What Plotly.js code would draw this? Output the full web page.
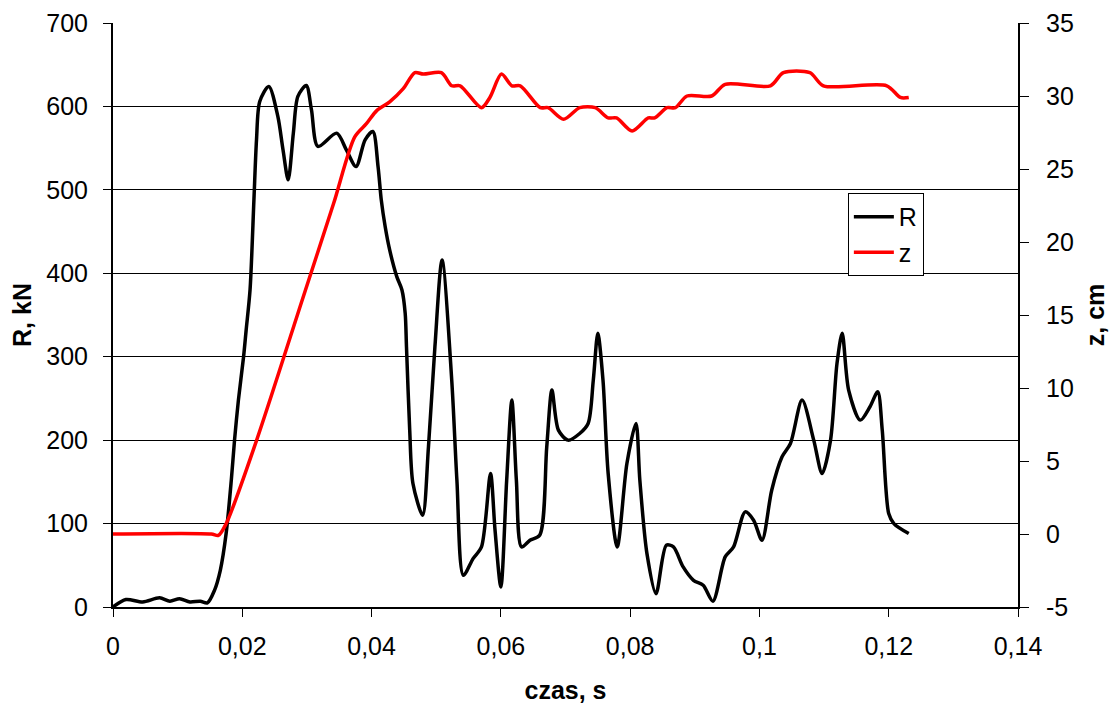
<!DOCTYPE html>
<html>
<head>
<meta charset="utf-8">
<script src="https://cdn.plot.ly/plotly-3.0.1.min.js"></script>
<style>html,body{margin:0;padding:0;background:#fff;}#chart{width:1109px;height:704px;}</style>
</head>
<body>
<div id="chart"></div>
<script>
// Time (s) and force R (kN)
const tR = [0,0.002,0.0046,0.0072,0.0088,0.0103,0.0119,0.0135,0.0146,0.0157,0.0166,0.0175,0.0183,0.0188,0.0194,0.0202,0.0206,0.0212,0.0218,0.0222,0.0227,0.0241,0.0255,0.0263,0.0271,0.0279,0.0286,0.0299,0.0307,0.0317,0.0346,0.0361,0.0376,0.0390,0.0402,0.0410,0.0415,0.0421,0.0428,0.0439,0.0447,0.0452,0.0454,0.0459,0.0464,0.0479,0.0488,0.0498,0.0509,0.0524,0.0532,0.0542,0.0557,0.0570,0.0584,0.0591,0.0600,0.0609,0.0617,0.0624,0.0632,0.0645,0.0660,0.0671,0.0679,0.0689,0.0704,0.0722,0.0735,0.0743,0.0750,0.0758,0.0766,0.0780,0.0795,0.0809,0.0815,0.0826,0.0840,0.0856,0.0867,0.0882,0.0898,0.0913,0.0928,0.0947,0.0960,0.0978,0.0991,0.1004,0.1019,0.1035,0.1048,0.1066,0.1084,0.1097,0.1110,0.1120,0.1128,0.1138,0.1156,0.1171,0.1183,0.1190,0.1200,0.1208,0.1231];
const R = [0,9,6,11,7,10,6,7,5,20,44,88,152,200,248,300,332,380,488,560,606,624,588,548,512,568,612,625,596,552,568,548,528,560,570,528,488,456,428,396,380,352,312,212,148,110,192,312,416,272,152,38,58,72,160,92,24,152,248,152,72,80,86,192,260,212,200,208,220,272,328,272,160,72,172,220,152,64,16,74,72,48,32,26,7,60,72,114,104,80,140,180,196,248,200,160,200,292,328,260,224,240,258,212,112,100,88];

// Time (s) and displacement z (cm)
const tZ = [0,0.0152,0.0163,0.0175,0.0222,0.0294,0.0341,0.0374,0.0392,0.0408,0.0428,0.0449,0.0467,0.0480,0.0508,0.0524,0.0537,0.0570,0.0583,0.0601,0.0617,0.0630,0.0661,0.0673,0.0697,0.0722,0.0746,0.0766,0.0779,0.0803,0.0828,0.0838,0.0857,0.0870,0.0888,0.0926,0.0947,0.1017,0.1037,0.1078,0.1099,0.1197,0.1218,0.1231];
const Z = [0,0,-0.1,0.7,6.4,16.2,22.6,27.2,28.1,29.0,29.6,30.5,31.6,31.5,31.6,30.7,30.7,29.2,29.9,31.5,30.7,30.7,29.2,29.2,28.4,29.2,29.2,28.5,28.5,27.6,28.5,28.5,29.2,29.2,30.0,30.0,30.8,30.7,31.6,31.6,30.7,30.7,29.9,29.9];

// Right-axis tick labels (hyphen minus as in the original)
const zTickVals = [-5,0,5,10,15,20,25,30,35];
const zTickText = ['-5','0','5','10','15','20','25','30','35'];

const FONT = 'Liberation Sans, Arial, sans-serif';

const traces = [
  {x: tR, y: R, name: 'R', type: 'scatter', mode: 'lines',
   line: {color: '#000000', width: 3.5, shape: 'spline', smoothing: 0.8}},
  {x: tZ, y: Z, name: 'z', type: 'scatter', mode: 'lines', yaxis: 'y2',
   line: {color: '#ff0000', width: 3.5, shape: 'spline', smoothing: 0.8}}
];

const layout = {
  width: 1109, height: 704,
  margin: {l: 113, r: 91, t: 23, b: 97, pad: 0},
  paper_bgcolor: '#fff', plot_bgcolor: '#fff',
  separators: ', ',
  font: {family: FONT, size: 25, color: '#000'},
  showlegend: true,
  legend: {x: 0.812, y: 0.709, xanchor: 'left', yanchor: 'top',
           bgcolor: '#fff', bordercolor: '#000', borderwidth: 1, itemwidth: 40,
           font: {family: FONT, size: 25, color: '#000'}},
  xaxis: {range: [0, 0.14], tick0: 0, dtick: 0.02, ticks: 'outside', ticklen: 8,
          tickcolor: '#000', tickwidth: 1, showline: true, linecolor: '#000', linewidth: 2,
          showgrid: false, zeroline: false, ticklabelstandoff: 8,
          title: {text: '<b>czas, s</b>', font: {family: FONT, size: 25}, standoff: 24}},
  yaxis: {range: [0, 700], tick0: 0, dtick: 100, ticks: 'outside', ticklen: 8,
          tickcolor: '#000', tickwidth: 1, showline: true, linecolor: '#000', linewidth: 2,
          showgrid: true, gridcolor: '#000', gridwidth: 1, zeroline: false,
          ticklabelstandoff: 10,
          title: {text: '<b>R, kN</b>', font: {family: FONT, size: 25}, standoff: 8}},
  yaxis2: {range: [-5, 35], tickmode: 'array', tickvals: zTickVals, ticktext: zTickText,
           overlaying: 'y', side: 'right',
           ticks: 'outside', ticklen: 9, tickcolor: '#000', tickwidth: 1,
           showline: true, linecolor: '#000', linewidth: 2, showgrid: false, zeroline: false,
           ticklabelstandoff: 12,
           title: {text: '<b>z, cm</b>', font: {family: FONT, size: 25}, standoff: 18}}
};

Plotly.newPlot('chart', traces, layout, {displayModeBar: false, staticPlot: true});
</script>
</body>
</html>
